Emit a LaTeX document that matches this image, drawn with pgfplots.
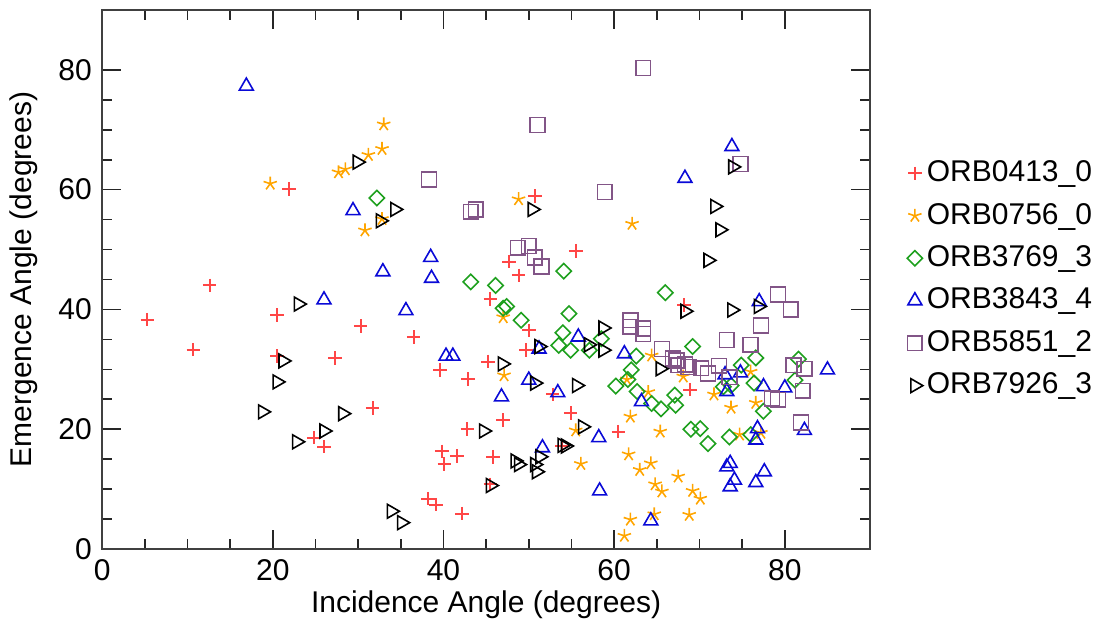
\documentclass[border=0pt]{standalone}
\usepackage{fontspec}
\setmainfont{Liberation Sans}
\usepackage{pgfplots}
\pgfplotsset{compat=1.18}

\definecolor{cRed}{RGB}{255,70,70}
\definecolor{cOrange}{RGB}{255,165,0}
\definecolor{cGreen}{RGB}{30,160,30}
\definecolor{cBlue}{RGB}{10,10,215}
\definecolor{cPurple}{RGB}{130,85,135}

\begin{document}
\fontsize{15}{18}\selectfont
\begin{tikzpicture}
\begin{axis}[
  scale only axis,
  width=384pt, height=269.5pt,
  xmin=0, xmax=90, ymin=0, ymax=90,
  xtick={0,20,...,80}, ytick={0,20,...,80},
  minor tick num=3,
  major tick length=9.5pt, minor tick length=5pt,
  tick style={black!85, line width=0.8pt},
  axis line style={black!75, line width=0.9pt},
  /pgf/number format/assume math mode=true,
  tick label style={font=\fontsize{15}{18}\selectfont},
  label style={font=\fontsize{15}{18}\selectfont},
  xlabel={Incidence Angle (degrees)},
  xlabel style={yshift=5pt},
  ylabel={Emergence Angle (degrees)},
  legend style={at={(1.04,0.5)}, anchor=west, draw=none,
    row sep=4.5pt, font=\fontsize{15}{18}\selectfont},
  legend cell align=left,
  only marks,
  every axis plot/.append style={line width=0.8pt},
]
% ORB0413_0
\addplot[cRed, mark=+, mark size=3.4pt, line width=1pt] coordinates {
(5.3,38.3) (10.7,33.3) (12.6,44.0) (20.5,39.1) (20.5,32.2) (21.9,60.1)
(24.8,18.6) (26.0,17.1) (27.3,31.9) (30.3,37.2) (31.7,23.5) (36.5,35.4)
(38.2,8.4) (39.1,7.4) (39.6,29.9) (39.8,16.3) (40.1,14.2) (41.6,15.5)
(42.2,5.9) (42.8,20.0) (42.9,28.4) (45.2,31.3) (45.5,41.7) (45.5,10.8)
(45.8,15.4) (47.0,21.5) (47.7,48.0) (48.8,45.7) (50.0,36.5) (49.7,33.2)
(50.7,58.9) (52.8,25.8) (53.9,17.2) (54.9,22.7) (55.5,49.8) (60.5,19.6)
(68.2,40.7) (68.9,26.6)
};
% ORB0756_0
\addplot[cOrange, mark=star, mark size=3.5pt] coordinates {
(19.7,61.0) (27.7,62.9) (28.5,63.4) (30.8,53.2) (31.2,65.8) (32.8,66.8)
(32.8,55.1) (33.0,70.9) (47.0,38.7) (47.1,29.0) (48.8,58.4) (55.5,19.8)
(56.1,14.2) (61.2,2.2) (61.5,28.3) (61.7,15.8) (61.9,22.1) (61.9,4.9)
(62.1,54.3) (63.0,13.2) (64.0,26.2) (64.3,14.3) (64.4,32.3) (64.7,5.8)
(64.8,10.8) (65.4,19.6) (65.6,9.6) (67.5,12.1) (68.1,28.8) (68.8,5.7)
(69.2,9.7) (70.1,8.4) (71.7,25.8) (73.7,23.6) (74.7,19.1) (76.0,29.6)
(76.6,24.4) (77.2,19.4)
};
% ORB3769_3
\addplot[cGreen, mark=square, mark size=2.7pt, mark options={rotate=45}] coordinates {
(32.2,58.6) (43.2,44.6) (46.1,44.0) (47.0,40.2) (47.4,40.5) (49.1,38.2)
(53.5,34.0) (54.0,36.1) (54.1,46.4) (54.7,39.3) (54.9,33.2) (57.1,33.2)
(58.5,35.1) (60.2,27.2) (61.6,28.3) (62.0,29.9) (62.6,32.2) (62.7,26.3)
(64.4,24.3) (65.5,23.4) (66.0,42.8) (67.1,25.7) (67.2,24.0) (69.0,20.0)
(69.2,33.8) (70.1,20.1) (71.0,17.6) (72.8,27.1) (73.5,18.7) (73.7,27.3)
(74.9,30.7) (76.0,19.1) (76.4,27.7) (76.6,31.9) (77.5,23.0) (81.2,28.2)
(81.6,31.7)
};
% ORB3843_4
\addplot[cBlue, mark=triangle, mark size=4pt] coordinates {
(16.9,77.3) (26.0,41.6) (29.4,56.5) (32.9,46.3) (35.6,39.8) (38.5,48.7)
(38.6,45.2) (40.3,32.2) (41.1,32.2) (46.8,25.4) (50.0,28.2) (51.2,33.4)
(51.6,16.9) (53.4,26.1) (55.8,35.4) (58.2,18.6) (58.3,9.7) (61.2,32.6)
(63.2,24.6) (64.3,4.7) (68.3,61.9) (73.0,29.1) (73.2,26.3) (73.2,13.7)
(73.6,14.3) (73.6,10.4) (73.8,67.2) (74.1,11.5) (74.8,29.4) (76.6,18.2)
(76.6,11.1) (76.8,20.1) (77.0,41.3) (77.5,27.1) (77.6,12.9) (80.0,26.9)
(82.3,19.8) (85.0,29.9)
};
% ORB5851_2
\addplot[cPurple, mark=square, mark size=3.7pt] coordinates {
(38.3,61.7) (43.2,56.3) (43.8,56.7) (48.7,50.3) (50.0,50.6) (50.7,48.7)
(51.0,70.8) (51.5,47.2) (58.9,59.6) (61.9,38.2) (61.9,37.1) (63.4,36.8)
(63.4,35.9) (63.4,80.3) (65.6,33.4) (66.9,31.8) (67.3,31.5) (67.5,30.7)
(68.3,30.8) (68.7,30.4) (70.2,30.2) (71.0,29.3) (72.3,30.6) (73.2,34.9)
(73.5,28.7) (74.8,64.3) (76.0,34.1) (77.2,37.3) (78.5,25.1) (79.2,24.9)
(79.2,42.5) (80.7,40.0) (81.0,30.7) (81.9,21.1) (82.1,26.4) (82.3,30.1)
};
% ORB7926_3
\addplot[black, mark=triangle, mark size=4pt, mark options={rotate=-90}] coordinates {
(18.8,22.9) (20.5,27.9) (21.2,31.4) (22.8,17.9) (23.0,40.9) (26.0,19.7)
(28.2,22.6) (29.9,64.6) (32.6,54.8) (33.9,6.3) (34.3,56.7) (35.1,4.4)
(44.7,19.7) (45.5,10.6) (46.9,30.9) (48.4,14.7) (48.8,14.1) (50.4,56.7)
(50.7,27.7) (50.7,14.1) (50.9,12.9) (51.2,33.8) (51.3,15.4) (53.9,17.3)
(54.3,17.2) (55.6,27.3) (56.3,20.4) (57.0,34.1) (58.7,36.9) (58.7,33.2)
(65.4,30.1) (68.3,39.7) (71.0,48.2) (71.8,57.2) (72.4,53.3) (73.8,39.9)
(73.9,63.8) (76.9,40.5)
};
\legend{ORB0413\_0, ORB0756\_0, ORB3769\_3, ORB3843\_4, ORB5851\_2, ORB7926\_3}
\end{axis}
\path ([yshift=5pt]current axis.north);
\end{tikzpicture}
\end{document}
